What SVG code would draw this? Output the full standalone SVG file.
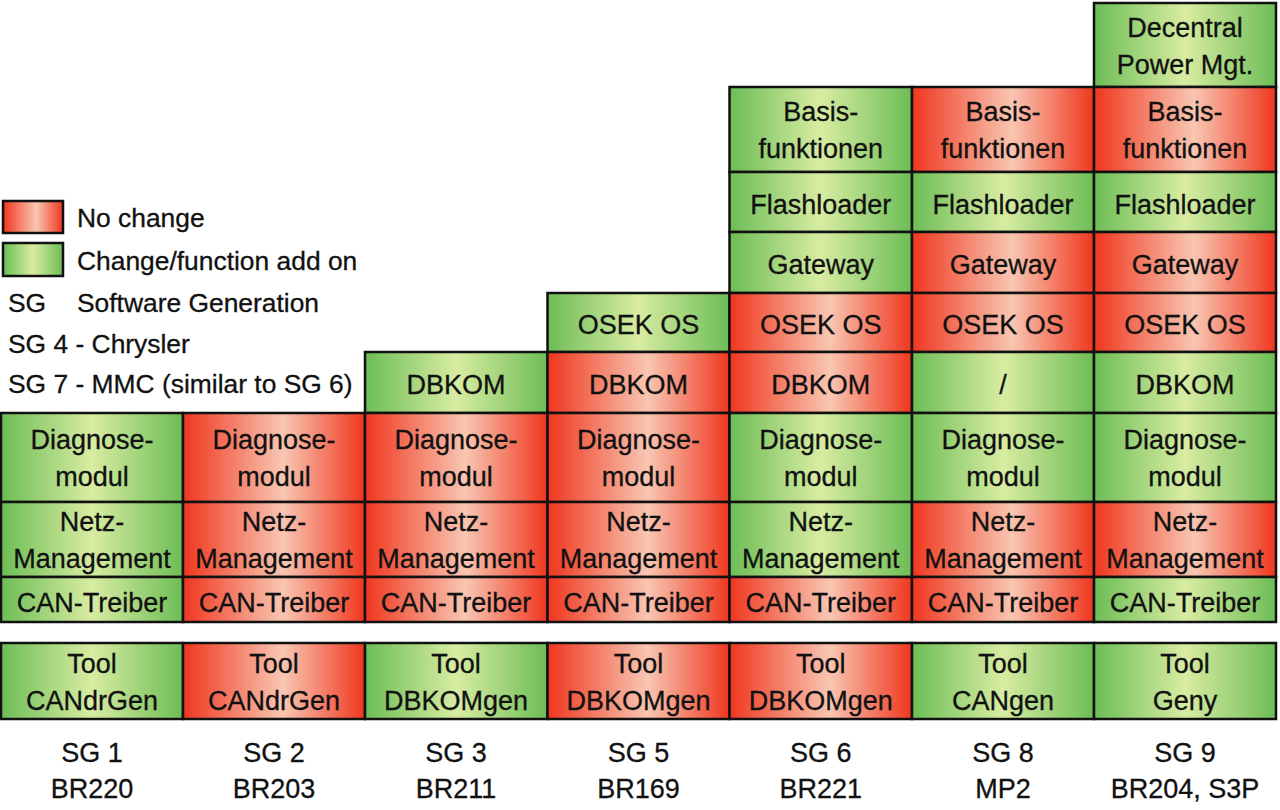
<svg xmlns="http://www.w3.org/2000/svg" width="1280" height="810" viewBox="0 0 1280 810">
<defs>
<linearGradient id="gG" x1="0" y1="0" x2="1" y2="0">
<stop offset="0" stop-color="#6cbd56"/>
<stop offset="0.5" stop-color="#d8eca2"/>
<stop offset="1" stop-color="#6cbd56"/>
</linearGradient>
<linearGradient id="gR" x1="0" y1="0" x2="1" y2="0">
<stop offset="0" stop-color="#f0361e"/>
<stop offset="0.55" stop-color="#f8c6b2"/>
<stop offset="1" stop-color="#f0361e"/>
</linearGradient>
<style>
.G{fill:url(#gG);stroke:#111;stroke-width:2.5}
.R{fill:url(#gR);stroke:#111;stroke-width:2.5}
text{font-family:"Liberation Sans",Arial,sans-serif;font-size:27px;fill:#111;stroke:#111;stroke-width:0.3}
.c{text-anchor:middle}
.l{font-size:26.4px}
</style>
</defs>
<rect width="1280" height="810" fill="#fff"/>

<g id="legend">
<rect class="R" x="3" y="201" width="60" height="32"/>
<rect class="G" x="3" y="243" width="60" height="33"/>
<text class="l" x="77" y="227">No change</text>
<text class="l" x="77" y="270">Change/function add on</text>
<text class="l" x="8" y="312">SG</text>
<text class="l" x="77" y="312">Software Generation</text>
<text class="l" x="8" y="353">SG 4 - Chrysler</text>
<text class="l" x="8" y="393">SG 7 - MMC (similar to SG 6)</text>
</g>

<!-- Column 1: SG 1 -->
<g id="sg1-diag"><rect class="G" x="1" y="413" width="182" height="89"/><text class="c" x="92" y="449">Diagnose-</text><text class="c" x="92" y="486">modul</text></g>
<g id="sg1-netz"><rect class="G" x="1" y="502" width="182" height="75"/><text class="c" x="92" y="531">Netz-</text><text class="c" x="92" y="568">Management</text></g>
<g id="sg1-can"><rect class="G" x="1" y="577" width="182" height="45"/><text class="c" x="92" y="612">CAN-Treiber</text></g>
<g id="sg1-tool"><rect class="G" x="1" y="643" width="182" height="76"/><text class="c" x="92" y="673">Tool</text><text class="c" x="92" y="710">CANdrGen</text></g>
<g id="sg1-label"><text class="c" x="92" y="762">SG 1</text><text class="c" x="92" y="798">BR220</text></g>

<!-- Column 2: SG 2 -->
<g id="sg2-diag"><rect class="R" x="183" y="413" width="182" height="89"/><text class="c" x="274" y="449">Diagnose-</text><text class="c" x="274" y="486">modul</text></g>
<g id="sg2-netz"><rect class="R" x="183" y="502" width="182" height="75"/><text class="c" x="274" y="531">Netz-</text><text class="c" x="274" y="568">Management</text></g>
<g id="sg2-can"><rect class="R" x="183" y="577" width="182" height="45"/><text class="c" x="274" y="612">CAN-Treiber</text></g>
<g id="sg2-tool"><rect class="R" x="183" y="643" width="182" height="76"/><text class="c" x="274" y="673">Tool</text><text class="c" x="274" y="710">CANdrGen</text></g>
<g id="sg2-label"><text class="c" x="274" y="762">SG 2</text><text class="c" x="274" y="798">BR203</text></g>

<!-- Column 3: SG 3 -->
<g id="sg3-dbkom"><rect class="G" x="365" y="352" width="182.5" height="61"/><text class="c" x="456" y="394">DBKOM</text></g>
<g id="sg3-diag"><rect class="R" x="365" y="413" width="182.5" height="89"/><text class="c" x="456" y="449">Diagnose-</text><text class="c" x="456" y="486">modul</text></g>
<g id="sg3-netz"><rect class="R" x="365" y="502" width="182.5" height="75"/><text class="c" x="456" y="531">Netz-</text><text class="c" x="456" y="568">Management</text></g>
<g id="sg3-can"><rect class="R" x="365" y="577" width="182.5" height="45"/><text class="c" x="456" y="612">CAN-Treiber</text></g>
<g id="sg3-tool"><rect class="G" x="365" y="643" width="182.5" height="76"/><text class="c" x="456" y="673">Tool</text><text class="c" x="456" y="710">DBKOMgen</text></g>
<g id="sg3-label"><text class="c" x="456" y="762">SG 3</text><text class="c" x="456" y="798">BR211</text></g>

<!-- Column 4: SG 5 -->
<g id="sg5-osek"><rect class="G" x="547.5" y="293" width="182" height="59"/><text class="c" x="638.5" y="334">OSEK OS</text></g>
<g id="sg5-dbkom"><rect class="R" x="547.5" y="352" width="182" height="61"/><text class="c" x="638.5" y="394">DBKOM</text></g>
<g id="sg5-diag"><rect class="R" x="547.5" y="413" width="182" height="89"/><text class="c" x="638.5" y="449">Diagnose-</text><text class="c" x="638.5" y="486">modul</text></g>
<g id="sg5-netz"><rect class="R" x="547.5" y="502" width="182" height="75"/><text class="c" x="638.5" y="531">Netz-</text><text class="c" x="638.5" y="568">Management</text></g>
<g id="sg5-can"><rect class="R" x="547.5" y="577" width="182" height="45"/><text class="c" x="638.5" y="612">CAN-Treiber</text></g>
<g id="sg5-tool"><rect class="R" x="547.5" y="643" width="182" height="76"/><text class="c" x="638.5" y="673">Tool</text><text class="c" x="638.5" y="710">DBKOMgen</text></g>
<g id="sg5-label"><text class="c" x="638.5" y="762">SG 5</text><text class="c" x="638.5" y="798">BR169</text></g>

<!-- Column 5: SG 6 -->
<g id="sg6-basis"><rect class="G" x="729.5" y="87" width="182.5" height="85"/><text class="c" x="820.7" y="121">Basis-</text><text class="c" x="820.7" y="158">funktionen</text></g>
<g id="sg6-flash"><rect class="G" x="729.5" y="172" width="182.5" height="60"/><text class="c" x="820.7" y="214">Flashloader</text></g>
<g id="sg6-gateway"><rect class="G" x="729.5" y="232" width="182.5" height="61"/><text class="c" x="820.7" y="274">Gateway</text></g>
<g id="sg6-osek"><rect class="R" x="729.5" y="293" width="182.5" height="59"/><text class="c" x="820.7" y="334">OSEK OS</text></g>
<g id="sg6-dbkom"><rect class="R" x="729.5" y="352" width="182.5" height="61"/><text class="c" x="820.7" y="394">DBKOM</text></g>
<g id="sg6-diag"><rect class="G" x="729.5" y="413" width="182.5" height="89"/><text class="c" x="820.7" y="449">Diagnose-</text><text class="c" x="820.7" y="486">modul</text></g>
<g id="sg6-netz"><rect class="G" x="729.5" y="502" width="182.5" height="75"/><text class="c" x="820.7" y="531">Netz-</text><text class="c" x="820.7" y="568">Management</text></g>
<g id="sg6-can"><rect class="R" x="729.5" y="577" width="182.5" height="45"/><text class="c" x="820.7" y="612">CAN-Treiber</text></g>
<g id="sg6-tool"><rect class="R" x="729.5" y="643" width="182.5" height="76"/><text class="c" x="820.7" y="673">Tool</text><text class="c" x="820.7" y="710">DBKOMgen</text></g>
<g id="sg6-label"><text class="c" x="820.7" y="762">SG 6</text><text class="c" x="820.7" y="798">BR221</text></g>

<!-- Column 6: SG 8 -->
<g id="sg8-basis"><rect class="R" x="912" y="87" width="182" height="85"/><text class="c" x="1003" y="121">Basis-</text><text class="c" x="1003" y="158">funktionen</text></g>
<g id="sg8-flash"><rect class="G" x="912" y="172" width="182" height="60"/><text class="c" x="1003" y="214">Flashloader</text></g>
<g id="sg8-gateway"><rect class="R" x="912" y="232" width="182" height="61"/><text class="c" x="1003" y="274">Gateway</text></g>
<g id="sg8-osek"><rect class="R" x="912" y="293" width="182" height="59"/><text class="c" x="1003" y="334">OSEK OS</text></g>
<g id="sg8-dbkom"><rect class="G" x="912" y="352" width="182" height="61"/><text class="c" x="1003" y="394">/</text></g>
<g id="sg8-diag"><rect class="G" x="912" y="413" width="182" height="89"/><text class="c" x="1003" y="449">Diagnose-</text><text class="c" x="1003" y="486">modul</text></g>
<g id="sg8-netz"><rect class="R" x="912" y="502" width="182" height="75"/><text class="c" x="1003" y="531">Netz-</text><text class="c" x="1003" y="568">Management</text></g>
<g id="sg8-can"><rect class="R" x="912" y="577" width="182" height="45"/><text class="c" x="1003" y="612">CAN-Treiber</text></g>
<g id="sg8-tool"><rect class="G" x="912" y="643" width="182" height="76"/><text class="c" x="1003" y="673">Tool</text><text class="c" x="1003" y="710">CANgen</text></g>
<g id="sg8-label"><text class="c" x="1003" y="762">SG 8</text><text class="c" x="1003" y="798">MP2</text></g>

<!-- Column 7: SG 9 -->
<g id="sg9-power"><rect class="G" x="1094" y="3" width="182" height="84"/><text class="c" x="1185" y="37">Decentral</text><text class="c" x="1185" y="74">Power Mgt.</text></g>
<g id="sg9-basis"><rect class="R" x="1094" y="87" width="182" height="85"/><text class="c" x="1185" y="121">Basis-</text><text class="c" x="1185" y="158">funktionen</text></g>
<g id="sg9-flash"><rect class="G" x="1094" y="172" width="182" height="60"/><text class="c" x="1185" y="214">Flashloader</text></g>
<g id="sg9-gateway"><rect class="R" x="1094" y="232" width="182" height="61"/><text class="c" x="1185" y="274">Gateway</text></g>
<g id="sg9-osek"><rect class="R" x="1094" y="293" width="182" height="59"/><text class="c" x="1185" y="334">OSEK OS</text></g>
<g id="sg9-dbkom"><rect class="G" x="1094" y="352" width="182" height="61"/><text class="c" x="1185" y="394">DBKOM</text></g>
<g id="sg9-diag"><rect class="G" x="1094" y="413" width="182" height="89"/><text class="c" x="1185" y="449">Diagnose-</text><text class="c" x="1185" y="486">modul</text></g>
<g id="sg9-netz"><rect class="R" x="1094" y="502" width="182" height="75"/><text class="c" x="1185" y="531">Netz-</text><text class="c" x="1185" y="568">Management</text></g>
<g id="sg9-can"><rect class="G" x="1094" y="577" width="182" height="45"/><text class="c" x="1185" y="612">CAN-Treiber</text></g>
<g id="sg9-tool"><rect class="G" x="1094" y="643" width="182" height="76"/><text class="c" x="1185" y="673">Tool</text><text class="c" x="1185" y="710">Geny</text></g>
<g id="sg9-label"><text class="c" x="1185" y="762">SG 9</text><text class="c" x="1185" y="798">BR204, S3P</text></g>
</svg>
